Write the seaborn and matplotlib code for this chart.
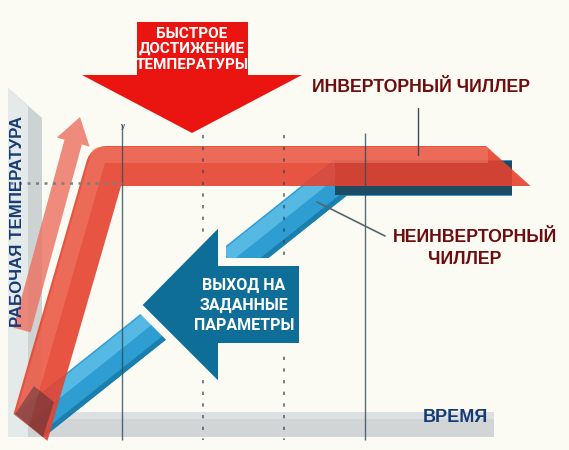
import matplotlib
matplotlib.use("Agg")
import matplotlib.pyplot as plt
import seaborn as sns
import numpy as np
import pandas as pd
from matplotlib.patches import Polygon, FancyArrow

# ---------------- data (chart units, time -> x, temperature -> y, y grows downward) ----
inverter_time = [24, 106, 530]
inverter_temp = [450, 166, 166]
noninv_time = [20, 340, 512]
noninv_temp = [433, 178, 178]
noninv_flat_time = [335, 512]
noninv_flat_temp = [178, 178]
solid_marks = [122, 365]
solid_marks_top = [124, 133]
dashed_marks = [203, 284]
setpoint_temp = 183
fast_lines = ["БЫСТРОЕ", "ДОСТИЖЕНИЕ", "ТЕМПЕРАТУРЫ"]
fast_line_y = [34, 49, 65]
exit_lines = ["ВЫХОД НА", "ЗАДАННЫЕ", "ПАРАМЕТРЫ"]
exit_line_y = [285, 305, 325]
label_inv = "ИНВЕРТОРНЫЙ ЧИЛЛЕР"
label_noninv = ["НЕИНВЕРТОРНЫЙ", "ЧИЛЛЕР"]
label_noninv_x = [475, 465]
label_noninv_y = [237, 260]
xlabel = "ВРЕМЯ"
ylabel = "РАБОЧАЯ ТЕМПЕРАТУРА"

BG = "#fbfbf4"
NARROW = ["Roboto", "Liberation Sans", "DejaVu Sans"]
WIDE = ["Liberation Sans", "DejaVu Sans"]


def pt(px):
    return px * 0.72


sns.set_theme(style="white")
plt.rcParams["font.family"] = WIDE

fig = plt.figure(figsize=(5.69, 4.5), dpi=100)
fig.patch.set_facecolor(BG)
ax = fig.add_axes([0, 0, 1, 1])
ax.set_facecolor(BG)
ax.set_xlim(0, 569)
ax.set_ylim(450, 0)
ax.axis("off")

# clip regions (slanted ribbon ends)
red_clip = Polygon([(-10, -10), (312, -10), (825, 450), (59, 450), (-10, 395)],
                   closed=True, transform=ax.transData)
blue_clip = Polygon([(-10, -10), (600, -10), (600, 437), (43, 437), (-10, 395)],
                    closed=True, transform=ax.transData)


def clip_last(n, clip):
    for ln in ax.lines[-n:]:
        ln.set_clip_path(clip)


# ---------------- axis bars ----------------
ax.add_patch(Polygon([(8, 88), (42, 118), (42, 437), (8, 437)], closed=True,
                     fc="#cdd2d2", ec="none", zorder=1))
ax.add_patch(Polygon([(8, 88), (28, 106), (28, 437), (8, 437)], closed=True,
                     fc="#e4e9e9", ec="none", zorder=1))
ax.add_patch(Polygon([(42, 412), (494, 412), (494, 437), (42, 437)], closed=True,
                     fc="#d2d5d5", ec="none", zorder=1))
ax.add_patch(Polygon([(42, 412), (494, 412), (494, 419), (42, 419)], closed=True,
                     fc="#dde0e0", ec="none", zorder=1))

# ---------------- non-inverter (blue) ribbon ----------------
df_b = pd.DataFrame({"t": noninv_time, "T": noninv_temp})
sns.lineplot(data=df_b, x="t", y="T", ax=ax, sort=False, estimator=None,
             color="#2d9dd2", linewidth=pt(36), solid_capstyle="butt",
             solid_joinstyle="miter", zorder=2)
sns.lineplot(x=[v - 4 for v in noninv_time], y=[v - 9 for v in noninv_temp], ax=ax,
             sort=False, estimator=None, color="#56b9e3", linewidth=pt(14),
             solid_capstyle="butt", solid_joinstyle="miter", zorder=2)
sns.lineplot(x=[v + 6 for v in noninv_time[:2]], y=[v + 15 for v in noninv_temp[:2]], ax=ax,
             sort=False, estimator=None, color="#1b7fae", linewidth=pt(5),
             solid_capstyle="butt", zorder=2)
clip_last(3, blue_clip)
sns.lineplot(x=noninv_flat_time, y=noninv_flat_temp, ax=ax, sort=False, estimator=None,
             color="#1e4a63", linewidth=pt(34), solid_capstyle="butt", zorder=2)

# ---------------- inverter (red) ribbon ----------------
df_r = pd.DataFrame({"t": inverter_time, "T": inverter_temp})
sns.lineplot(data=df_r, x="t", y="T", ax=ax, sort=False, estimator=None,
             color="#e5432f", alpha=0.9, linewidth=pt(40), solid_capstyle="butt",
             solid_joinstyle="round", zorder=3)
sns.lineplot(x=[v - 7 for v in inverter_time[:2]] + [488], y=[v - 11 for v in inverter_temp],
             ax=ax, sort=False, estimator=None, color="#f08575", alpha=0.45,
             linewidth=pt(16), solid_capstyle="butt", solid_joinstyle="round", zorder=3)
clip_last(2, red_clip)

# dark overlap at the origin
ax.add_patch(Polygon([(15, 414), (43, 437), (54, 402), (34, 386)], closed=True,
                     fc="#3b2a35", ec="none", alpha=0.45, zorder=3))

# thin "fast rise" arrow
ax.add_patch(FancyArrow(22, 330, 58, -213, width=18, head_width=34, head_length=26,
                        length_includes_head=True, fc="#ec6f5f", ec="none",
                        alpha=0.8, zorder=3))

# ---------------- guide lines ----------------
ax.vlines(solid_marks, solid_marks_top, 440, colors="#2f4a5e", lw=1.0, alpha=0.8, zorder=4)
ax.vlines(dashed_marks, 135, 440, colors="#3a4650", lw=1.2, linestyles=(0, (2, 5)),
          alpha=0.8, zorder=4)
ax.hlines(setpoint_temp, 10, 122, colors="#7a7f80", lw=1.8, linestyles=(0, (1.2, 2.2)),
          zorder=4)
ax.text(123, 126, "y", fontsize=6, color="#2f4a5e", ha="center", va="center", zorder=4)

# ---------------- big arrows ----------------
ax.add_patch(Polygon([(137, 22), (248, 22), (248, 75), (302, 75), (192, 133), (82, 75),
                      (137, 75)], closed=True, fc="#ea1410", ec="none", zorder=6))
for s, y in zip(fast_lines, fast_line_y):
    ax.text(192, y, s, color="white", fontsize=11, fontweight="bold", family=NARROW,
            ha="center", va="center", zorder=7)

ax.add_patch(Polygon([(137, 305), (222, 219), (222, 262), (303, 262), (303, 347),
                      (222, 347), (222, 390)], closed=True, fc="#0f6e97", ec=BG,
                     lw=pt(8), joinstyle="miter", zorder=6))
for s, y in zip(exit_lines, exit_line_y):
    ax.text(244, y, s, color="white", fontsize=11.5, fontweight="bold", family=NARROW,
            ha="center", va="center", zorder=7)

# ---------------- labels ----------------
ax.plot([418, 418], [108, 155], color="#3d4a50", lw=1.0, zorder=5)
ax.plot([317, 385], [202, 236], color="#55676e", lw=1.2, zorder=5)
ax.text(421, 88, label_inv, color="#6e0d0f", fontsize=12.7, fontweight="bold",
        ha="center", va="center", zorder=7)
for s, x, y in zip(label_noninv, label_noninv_x, label_noninv_y):
    ax.text(x, y, s, color="#6e0d0f", fontsize=12.7, fontweight="bold",
            ha="center", va="center", zorder=7)
ax.text(455, 418, xlabel, color="#163a73", fontsize=13, fontweight="bold",
        ha="center", va="center", zorder=7)
ax.text(18, 221, ylabel, color="#163a73", fontsize=12.2, fontweight="bold",
        rotation=90, ha="center", va="center", zorder=7)

fig.savefig("out.png", dpi=100, facecolor=BG)
